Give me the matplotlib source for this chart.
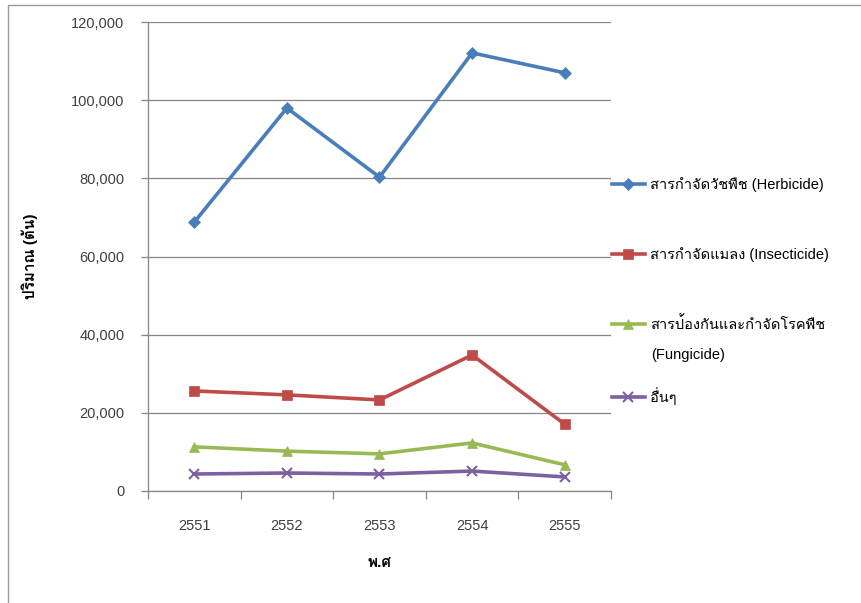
import matplotlib
matplotlib.use("Agg")
import matplotlib.pyplot as plt
from matplotlib import font_manager
from matplotlib.ft2font import FT2Font
from matplotlib.patches import Rectangle
from matplotlib.ticker import FuncFormatter, MultipleLocator

years = ["2551", "2552", "2553", "2554", "2555"]
herbicide = [68800, 98000, 80300, 112100, 107000]
insecticide = [25600, 24600, 23300, 34800, 17100]
fungicide = [11300, 10200, 9500, 12300, 6700]
others = [4350, 4600, 4350, 5100, 3600]

labels = [
    "สารกำจัดวัชพืช (Herbicide)",
    "สารกำจัดแมลง (Insecticide)",
    "สารป้องกันและกำจัดโรคพืช",
    "อื่นๆ",
]
colors = ["#4a7ebb", "#be4b48", "#98b954", "#7d60a0"]
markers = ["D", "s", "^", "x"]


def thai_family():
    # pick the first installed font that actually has Thai glyphs
    for entry in font_manager.fontManager.ttflist:
        try:
            if ord("ก") in FT2Font(entry.fname).get_charmap():
                return entry.name
        except Exception:
            continue
    return None


families = ["Liberation Sans"]
thai = thai_family()
if thai:
    families.append(thai)
families.append("DejaVu Sans")
plt.rcParams["font.family"] = families

W, H = 862, 603
fig = plt.figure(figsize=(W / 100, H / 100), dpi=100, facecolor="white")
ax = fig.add_axes([148 / W, 1 - 491 / H, (611 - 148) / W, (491 - 22) / H])

x = range(len(years))
series = [herbicide, insecticide, fungicide, others]
for values, color, marker, label in zip(series, colors, markers, labels):
    ms = 6.5 if marker == "D" else 7.5
    ax.plot(x, values, color=color, lw=2.6, marker=marker, ms=ms,
            mew=1.5 if marker == "x" else 0.5, mec=color, label=label,
            solid_joinstyle="round")

ax.set_xlim(-0.5, len(years) - 0.5)
ax.set_ylim(0, 120000)
ax.yaxis.set_major_locator(MultipleLocator(20000))
ax.yaxis.set_major_formatter(FuncFormatter(lambda v, _: f"{v:,.0f}"))
ax.set_xticks(list(x))
ax.set_xticklabels(years)
ax.set_xticks([i - 0.5 for i in range(len(years) + 1)], minor=True)

grid_color = "#868686"
ax.grid(axis="y", color=grid_color, lw=0.9)
ax.set_axisbelow(True)
for side in ("top", "right"):
    ax.spines[side].set_visible(False)
for side in ("left", "bottom"):
    ax.spines[side].set_color(grid_color)
    ax.spines[side].set_linewidth(0.9)

ax.tick_params(axis="y", length=5, color=grid_color, width=0.9,
               labelsize=10.5, labelcolor="#404040", pad=12)
ax.tick_params(axis="x", which="major", length=0, labelsize=10.5,
               labelcolor="#404040", pad=20)
ax.tick_params(axis="x", which="minor", length=6, color=grid_color, width=0.9)

ax.set_ylabel("ปริมาณ (ตัน)", fontsize=11, fontweight="bold")
ax.yaxis.set_label_coords((38 - 148) / 463, 0.5)
ax.set_xlabel("พ.ศ", fontsize=11, fontweight="bold", labelpad=17)

leg = fig.legend(loc="upper left", bbox_to_anchor=(612 / W, 1 - 177 / H),
                 frameon=False, fontsize=10.5, handlelength=2.25,
                 handletextpad=0.35, labelspacing=3.76, borderpad=0,
                 borderaxespad=0, numpoints=1)
fig.text(651 / W, 1 - 355 / H, "(Fungicide)", fontsize=10.5,
         va="center", ha="left")

# outer chart border
fig.add_artist(Rectangle((8 / W, -0.1), 1.1, 1 - 5 / H + 0.1,
                         transform=fig.transFigure, fill=False,
                         ec="#9a9a9a", lw=1.0, clip_on=False))

fig.savefig("out.png", dpi=100)
